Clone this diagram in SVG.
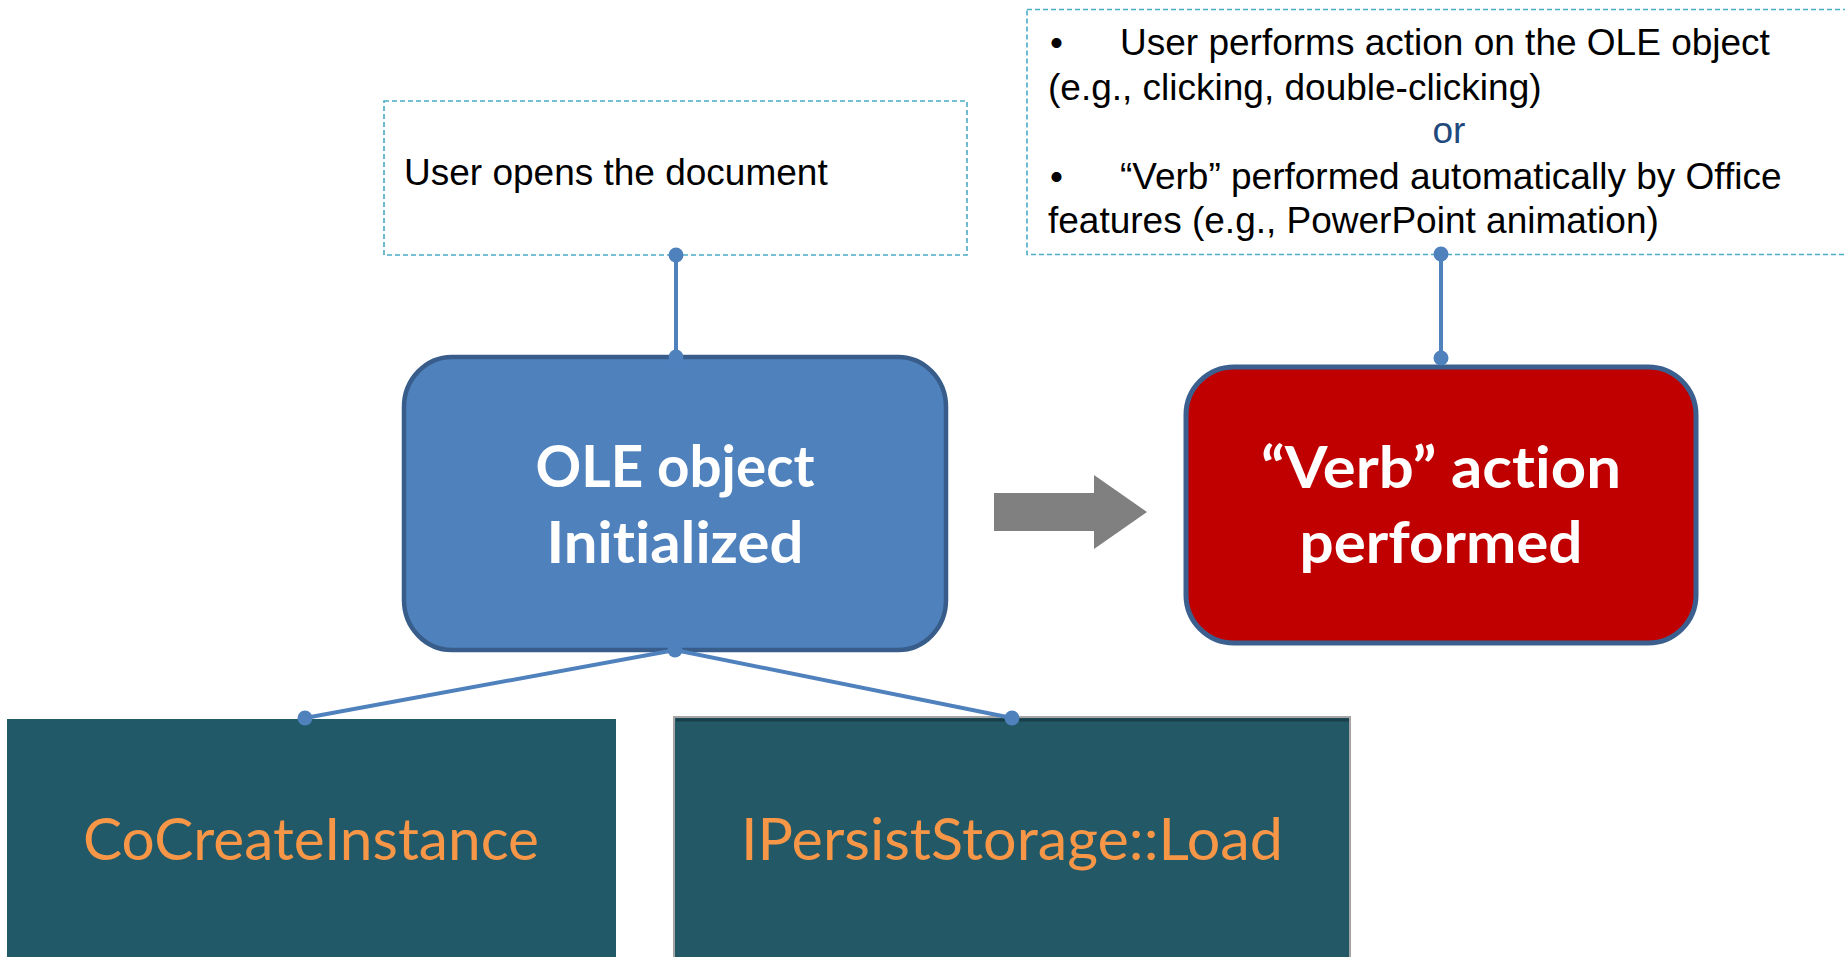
<svg xmlns="http://www.w3.org/2000/svg" width="1845" height="957" viewBox="0 0 1845 957">
<style>
.note{fill:#ffffff;stroke:#4BACC6;stroke-width:1.6;stroke-dasharray:5,3}
.ntxt{font-family:"Liberation Sans",Arial,sans-serif;font-size:37px;fill:#000000}
.big{font-family:Lato,"Open Sans",sans-serif;font-weight:bold;font-size:58px;fill:#ffffff;text-anchor:middle;font-variant-ligatures:none}
.api{font-family:Lato,"Open Sans",sans-serif;font-size:58px;fill:#F79646;text-anchor:middle;font-variant-ligatures:none}
.conn{stroke:#4F81BD;stroke-width:4;fill:none}
.dot{fill:#4F81BD}
</style>
<rect width="1845" height="957" fill="#ffffff"/>
<g id="note-open">
<rect class="note" x="384" y="101" width="583" height="154"/>
<text class="ntxt" x="404" y="185">User opens the document</text>
</g>
<g id="note-verb">
<rect class="note" x="1027" y="9.5" width="830" height="245"/>
<text class="ntxt" x="1050" y="55">•</text>
<text class="ntxt" x="1120" y="55">User performs action on the OLE object</text>
<text class="ntxt" x="1048" y="100">(e.g., clicking, double-clicking)</text>
<text class="ntxt" x="1449" y="143" text-anchor="middle" style="fill:#1F497D">or</text>
<text class="ntxt" x="1050" y="189">•</text>
<text class="ntxt" x="1120" y="189">“Verb” performed automatically by Office</text>
<text class="ntxt" x="1048" y="233">features (e.g., PowerPoint animation)</text>
</g>
<g id="ole-init">
<rect x="404" y="357" width="542" height="293" rx="48" ry="50" fill="#4F81BD" stroke="#385D8A" stroke-width="4.5"/>
<text class="big" x="675" y="487" textLength="279" lengthAdjust="spacingAndGlyphs">OLE object</text>
<text class="big" x="675" y="563" textLength="257" lengthAdjust="spacingAndGlyphs">Initialized</text>
</g>
<g id="verb-action">
<rect x="1186" y="367" width="510" height="276" rx="48" ry="48" fill="#C00000" stroke="#3B5F8F" stroke-width="5"/>
<text class="big" x="1441" y="488" textLength="360" lengthAdjust="spacingAndGlyphs">“Verb” action</text>
<text class="big" x="1441" y="563" textLength="283" lengthAdjust="spacingAndGlyphs">performed</text>
</g>
<g id="arrow">
<polygon points="994,493 1094,493 1094,475 1147,512 1094,549 1094,531 994,531" fill="#808080"/>
</g>
<g id="cocreate">
<rect x="7" y="719" width="609" height="250" fill="#215968"/>
<text class="api" x="311" y="860" textLength="456" lengthAdjust="spacingAndGlyphs">CoCreateInstance</text>
</g>
<g id="ipersist">
<rect x="674" y="717" width="676" height="250" fill="#235867" stroke="#A5A5A5" stroke-width="2"/>
<line x1="676" y1="720" x2="1349" y2="720" stroke="#1A3F4A" stroke-width="3"/>
<text class="api" x="1012" y="860" textLength="542" lengthAdjust="spacingAndGlyphs">IPersistStorage::Load</text>
</g>
<g id="connectors">
<line class="conn" x1="676" y1="255" x2="676" y2="357"/>
<circle class="dot" cx="676" cy="255" r="7.5"/>
<circle class="dot" cx="676" cy="357" r="7.5"/>
<line class="conn" x1="1441" y1="254" x2="1441" y2="358"/>
<circle class="dot" cx="1441" cy="254" r="7.5"/>
<circle class="dot" cx="1441" cy="358" r="7.5"/>
<polyline class="conn" points="305,718 675,650 1012,718"/>
<circle class="dot" cx="675" cy="650" r="7.5"/>
<circle class="dot" cx="305" cy="718" r="7.5"/>
<circle class="dot" cx="1012" cy="718" r="7.5"/>
</g>
</svg>
